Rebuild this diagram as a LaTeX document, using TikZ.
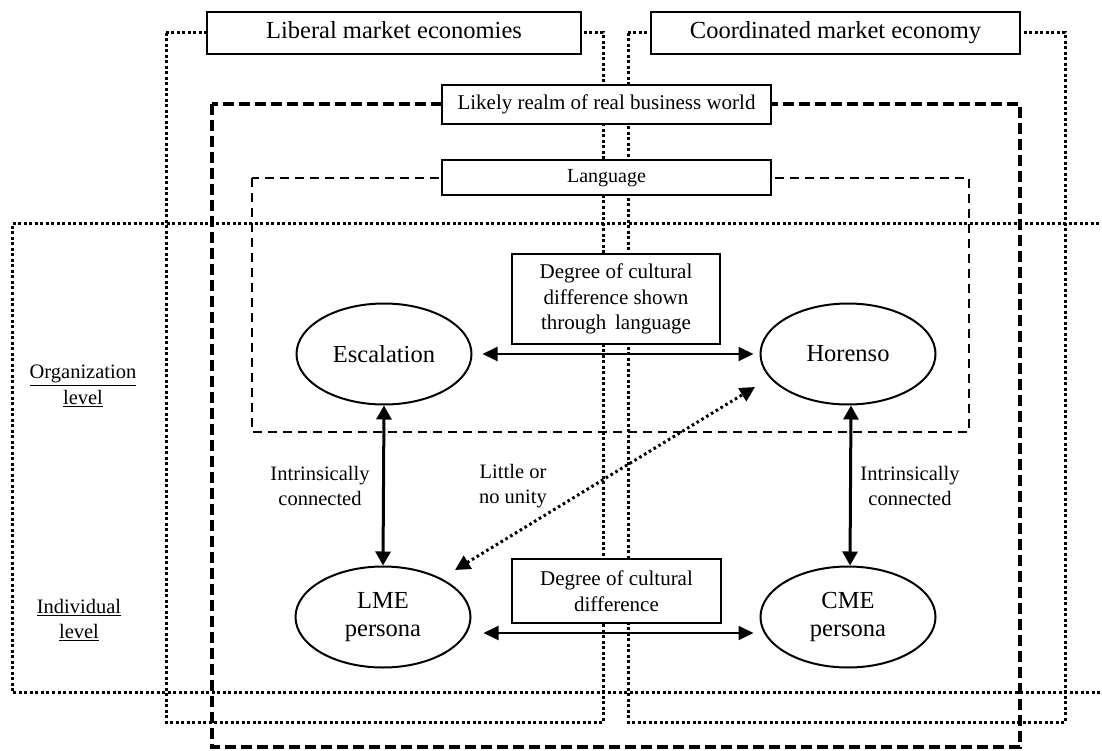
\documentclass[tikz,border=0pt]{standalone}
\usepackage{fontspec}
\setmainfont{Liberation Serif}
\usetikzlibrary{arrows.meta,shapes.geometric}
\begin{document}
\begin{tikzpicture}[x=1pt,y=-1pt,
  dotframe/.style={line width=3pt, dash pattern=on 3pt off 2.5pt},
  realmframe/.style={line width=3.2pt, dash pattern=on 11pt off 5pt},
  langframe/.style={line width=1.5pt, dash pattern=on 9pt off 6pt},
  bigfont/.style={font=\fontsize{24.5}{28}\selectfont},
  smallfont/.style={font=\fontsize{20.5}{25.5}\selectfont},
  titlebox/.style={draw, line width=1.3pt, fill=white, inner sep=0pt, bigfont,
    text height=17pt, text depth=5pt},
  subtitlebox/.style={draw, line width=1.3pt, fill=white, inner sep=0pt,
    text height=15pt, text depth=4.5pt},
  notebox/.style={draw, line width=1.6pt, fill=white, inner sep=0pt, align=center,
    font=\fontsize{21}{25.5}\selectfont},
  concept/.style={draw, ellipse, line width=2pt, fill=white, inner sep=0pt,
    minimum width=175pt, minimum height=101pt, align=center, bigfont},
  label/.style={align=center, smallfont},
  twoway/.style={line width=2pt, {Triangle[length=15pt,width=14pt]}-{Triangle[length=15pt,width=14pt]}},
  link/.style={line width=3pt, {Triangle[length=14pt,width=15pt]}-{Triangle[length=14pt,width=15pt]}},
  weaklink/.style={line width=3pt, dash pattern=on 2.6pt off 3pt,
    {Triangle[length=15pt,width=15pt]}-{Triangle[length=15pt,width=15pt]}}
]
\useasboundingbox (0,0) rectangle (1102,751);
\clip (0,0) rectangle (1102,751);

% level band (organization / individual)
\draw[dotframe] (1110,224) -- (12,224) -- (12,692) -- (1110,692);

% economy frames
\draw[dotframe] (166,33) rectangle (603,722);
\draw[dotframe] (628,33) rectangle (1065,722);

% realm of real business world
\draw[realmframe] (212,104) rectangle (1020,747);

% language frame
\draw[langframe] (252,178) rectangle (969,432);

% frame titles
\node[titlebox, minimum width=374pt, minimum height=42pt] (lmeTitle) at (394,33) {Liberal market economies};
\node[titlebox, minimum width=369pt, minimum height=42pt] (cmeTitle) at (835.5,33) {Coordinated market economy};
\node[subtitlebox, minimum width=329pt, minimum height=39pt, font=\fontsize{21}{25}\selectfont] (realmTitle) at (606.5,104.5) {Likely realm of real business world};
\node[subtitlebox, minimum width=329pt, minimum height=35pt, font=\fontsize{20}{24}\selectfont] (langTitle) at (606.5,177.5) {Language};

% concepts
\node[concept] (esc) at (384,354) {Escalation};
\node[concept] (hor) at (848,354) {Horenso};
\node[concept] (lme) at (383,617) {LME\\persona};
\node[concept] (cme) at (848,617) {CME\\persona};

% notes on the horizontal links
\node[notebox, minimum width=208pt, minimum height=90pt] (langdiff) at (616,299)
  {Degree of cultural\\difference shown\\through\, language};
\node[notebox, minimum width=209pt, minimum height=64pt] (culdiff) at (616.5,591)
  {Degree of cultural\\difference};

% links
\draw[twoway, shorten <=10pt, shorten >=6pt] (esc.east) -- (hor.west);
\draw[twoway, shorten <=12pt, shorten >=6pt] ([yshift=-16pt]lme.east) -- ([yshift=-16pt]cme.west);
\draw[link] (esc.south) -- (lme.north);
\draw[link] ([xshift=3pt]hor.south) -- ([xshift=2pt]cme.north);
\draw[weaklink] ([shift={(72,-47)}]lme.center) -- ([shift={(-93,33)}]hor.center);

% link labels
\node[label] (leftlink) at (320,486) {Intrinsically\\connected};
\node[label] (midlink) at (513,486) {Little or\\no unity};
\node[label] (rightlink) at (910,486) {Intrinsically\\connected};

% level labels
\node[label] (orglevel) at (83,386) {\underline{Organization}\\\underline{level}};
\node[label] (indlevel) at (79,620) {\underline{Individual}\\\underline{level}};
\end{tikzpicture}
\end{document}
